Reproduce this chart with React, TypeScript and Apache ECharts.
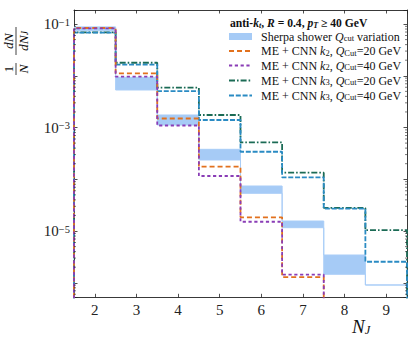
import React, { useEffect, useRef } from "react";
import * as echarts from "echarts";

// Bin centres (number of jets)
const NJ = [2, 3, 4, 5, 6, 7, 8, 9];
// Sherpa shower Q_cut variation band (upper / lower edge)
const sherpaUpper = [0.088, 0.00933, 0.001746, 3.79e-4, 7.41e-5, 1.56e-5, 3.44e-6, 9.06e-7];
const sherpaLower = [0.074, 0.00531, 0.001117, 2.36e-4, 5.36e-5, 1.16e-5, 1.46e-6, 9.06e-7];
// ME + CNN predictions
const k2Q20 = [0.0837, 0.01114, 0.001493, 1.75e-4, 1.84e-5, 1.29e-6, 1e-8, 1e-8];
const k2Q40 = [0.0826, 0.00959, 0.001093, 1.156e-4, 1.51e-5, 1.44e-6, 1e-8, 1e-8];
const k3Q20 = [0.0692, 0.01786, 0.00588, 1.746e-3, 5.18e-4, 1.34e-4, 2.8e-5, 1.045e-5];
const k3Q40 = [0.068, 0.01648, 0.00507, 1.397e-3, 3.4e-4, 1.09e-4, 2.7e-5, 2.55e-6];

const X_MIN = 1.5;
const X_MAX = 9.5;
const Y_MIN = 5.24e-7;
const Y_MAX = 0.1866;
const ZERO = 1e-10;

const FONT = "'Liberation Serif', 'DejaVu Serif', serif";
const AX = "#222";
const C_BAND = "#a6cbf6";
const C_BAND_EDGE = "#a9cdf7";
const C_ORANGE = "#e2711d";
const C_PURPLE = "#8a3db6";
const C_GREEN = "#1b6b55";
const C_BLUE = "#2a8bc3";

const DASH_ORANGE = [5, 3];
const DASH_PURPLE = [3.2, 2.6];
const DASH_GREEN = [6, 2, 1.6, 2];
const DASH_BLUE = [5, 1.8];

function stepPoints(vals: number[], drop: boolean) {
  const pts: number[][] = [];
  if (drop) pts.push([NJ[0] - 0.5, ZERO]);
  vals.forEach((v, i) => pts.push([NJ[i] - 0.5, v]));
  pts.push([NJ[NJ.length - 1] + 0.5, vals[vals.length - 1]]);
  if (drop) pts.push([NJ[NJ.length - 1] + 0.5, ZERO]);
  return pts;
}

const minorTicks: number[] = [];
for (let e = -7; e <= 0; e++) {
  for (let m = 2; m <= 9; m++) {
    const v = m * Math.pow(10, e);
    if (v > Y_MIN && v < Y_MAX) minorTicks.push(v);
  }
}

function lineSeries(name: string, vals: number[], color: string, dash: number[], width: number, z: number) {
  return {
    type: "line",
    name,
    data: stepPoints(vals, true),
    step: "end",
    showSymbol: false,
    symbol: "none",
    clip: true,
    z,
    lineStyle: { color, width, type: dash, cap: "butt" },
  };
}

const subRich = (size: number, color: string, italic = false, bold = false) => ({
  fontSize: size,
  fontFamily: FONT,
  fontStyle: italic ? "italic" : "normal",
  fontWeight: bold ? "bold" : "normal",
  fill: color,
  color,
  lineHeight: 6,
  verticalAlign: "bottom",
});

export default function App() {
  const ref = useRef<HTMLDivElement>(null);
  useEffect(() => {
    if (!ref.current) return;
    const chart = echarts.init(ref.current, undefined, { renderer: "svg" });

    const mainSize = 12;
    const titleSize = 11.6;
    const txt = "#111";
    const LH = 12;
    const legendRich: any = {
      m: { fontSize: mainSize, fontFamily: FONT, fill: txt, color: txt, lineHeight: LH, verticalAlign: "middle" },
      i: { fontSize: mainSize, fontFamily: FONT, fontStyle: "italic", fill: txt, color: txt, lineHeight: LH, verticalAlign: "middle" },
      s: subRich(8.5, txt),
      si: subRich(8.5, txt, true),
      b: { fontSize: titleSize, fontFamily: FONT, fontWeight: "bold", fill: txt, color: txt, lineHeight: LH, verticalAlign: "middle" },
      bi: { fontSize: titleSize, fontFamily: FONT, fontWeight: "bold", fontStyle: "italic", fill: txt, color: txt, lineHeight: LH, verticalAlign: "middle" },
      bs: subRich(8, txt, true, true),
    };

    const hx1 = 229;
    const hx2 = 252;
    const tx = 261;
    const rowsY = [36.5, 51, 65.5, 80.5, 95.5];
    const entries = [
      { text: "{m|Sherpa shower }{i|Q}{s|cut}{m| variation}" },
      { text: "{m|ME + CNN }{i|k}{s|2}{m|, }{i|Q}{s|Cut}{m|=20 GeV}", color: C_ORANGE, dash: DASH_ORANGE },
      { text: "{m|ME + CNN }{i|k}{s|2}{m|, }{i|Q}{s|Cut}{m|=40 GeV}", color: C_PURPLE, dash: DASH_PURPLE },
      { text: "{m|ME + CNN }{i|k}{s|3}{m|, }{i|Q}{s|Cut}{m|=20 GeV}", color: C_GREEN, dash: DASH_GREEN },
      { text: "{m|ME + CNN }{i|k}{s|3}{m|, }{i|Q}{s|Cut}{m|=40 GeV}", color: C_BLUE, dash: DASH_BLUE },
    ];

    const graphics: any[] = [];
    graphics.push({
      type: "text",
      x: 230,
      y: 23,
      silent: true,
      style: {
        text: "{b|anti-}{bi|k}{bs|t}{b|, }{bi|R}{b| = 0.4, }{bi|p}{bs|T}{b| ≥ 40 GeV}",
        rich: legendRich,
        verticalAlign: "middle",
        align: "left",
      },
    });
    entries.forEach((e, k) => {
      const y = rowsY[k];
      if (k === 0) {
        graphics.push({ type: "rect", silent: true, shape: { x: hx1, y: y - 3.5, width: hx2 - hx1, height: 7 }, style: { fill: C_BAND } });
      } else {
        graphics.push({
          type: "line",
          silent: true,
          shape: { x1: hx1, y1: y, x2: hx2, y2: y },
          style: { stroke: e.color, lineWidth: 1.8, lineDash: e.dash },
        });
      }
      graphics.push({
        type: "text",
        x: tx,
        y,
        silent: true,
        style: { text: e.text, rich: legendRich, verticalAlign: "middle", align: "left" },
      });
    });

    // y axis title: 1/N dN/dN_J rotated
    const ySize = 13.5;
    const yRich: any = {
      i: { fontSize: ySize, fontFamily: FONT, fontStyle: "italic", fill: txt, color: txt, lineHeight: 13 },
      m: { fontSize: ySize, fontFamily: FONT, fill: txt, color: txt, lineHeight: 13 },
      s: { fontSize: 9.5, fontFamily: FONT, fontStyle: "italic", fill: txt, color: txt, verticalAlign: "bottom", lineHeight: 8 },
    };
    graphics.push({
      type: "group",
      x: 16,
      y: 52,
      rotation: Math.PI / 2,
      silent: true,
      children: [
        { type: "text", x: -17, y: -1.2, style: { text: "{m|1}", rich: yRich, align: "center", verticalAlign: "bottom" } },
        { type: "line", shape: { x1: -23, y1: 0, x2: -11, y2: 0 }, style: { stroke: txt, lineWidth: 0.8 } },
        { type: "text", x: -17, y: 1.2, style: { text: "{i|N}", rich: yRich, align: "center", verticalAlign: "top" } },
        { type: "text", x: 11, y: -1.2, style: { text: "{i|dN}", rich: yRich, align: "center", verticalAlign: "bottom" } },
        { type: "line", shape: { x1: -3, y1: 0, x2: 25, y2: 0 }, style: { stroke: txt, lineWidth: 0.8 } },
        { type: "text", x: 11, y: 1.2, style: { text: "{i|dN}{s|J}", rich: yRich, align: "center", verticalAlign: "top" } },
      ],
    });

    // x axis title N_J
    graphics.push({
      type: "text",
      x: 352,
      y: 326,
      silent: true,
      style: {
        text: "{n|N}{s|J}",
        rich: {
          n: { fontSize: 19, fontFamily: FONT, fontStyle: "italic", fill: txt, color: txt, lineHeight: 20, verticalAlign: "middle" },
          s: { fontSize: 12.5, fontFamily: FONT, fontStyle: "italic", fill: txt, color: txt, lineHeight: 10, verticalAlign: "bottom" },
        },
        verticalAlign: "middle",
        align: "left",
      },
    });

    const axisCommon = {
      axisLine: { show: true, onZero: false, lineStyle: { color: AX, width: 0.9 } },
      splitLine: { show: false },
      minorSplitLine: { show: false },
    };

    const option: any = {
      animation: false,
      backgroundColor: "#fff",
      grid: { left: 74, right: 8, top: 10, bottom: 44.7, containLabel: false, outerBoundsMode: "none" },
      xAxis: [
        {
          type: "value",
          min: X_MIN,
          max: X_MAX,
          splitNumber: 8,
          position: "bottom",
          ...axisCommon,
          axisTick: { show: true, inside: true, length: 3.5, lineStyle: { color: AX, width: 0.8 } },
          axisLabel: {
            show: true,
            margin: 5,
            fontFamily: FONT,
            fontSize: 15,
            color: "#222",
            formatter: (v: number) => (Number.isInteger(v) ? String(v) : ""),
          },
        },
        {
          type: "value",
          min: X_MIN,
          max: X_MAX,
          splitNumber: 8,
          position: "top",
          ...axisCommon,
          axisTick: { show: true, inside: true, length: 3.5, lineStyle: { color: AX, width: 0.8 } },
          axisLabel: { show: false },
        },
      ],
      yAxis: [
        {
          type: "log",
          logBase: 10,
          min: Y_MIN,
          max: Y_MAX,
          splitNumber: 5,
          position: "left",
          ...axisCommon,
          axisTick: { show: true, inside: true, length: 3.5, lineStyle: { color: AX, width: 0.8 } },
          axisLabel: {
            show: true,
            margin: 4,
            formatter: (v: number) => {
              const e = Math.log10(v);
              const r = Math.round(e);
              if (Math.abs(e - r) > 1e-6 || r % 2 === 0) return "";
              return `{b|10}{s|−${Math.abs(r)}}`;
            },
            rich: {
              b: { fontFamily: FONT, fontSize: 15, color: "#222", lineHeight: 15, verticalAlign: "bottom" },
              s: { fontFamily: FONT, fontSize: 10.5, color: "#222", lineHeight: 10, verticalAlign: "top" },
            },
          },
        },
        {
          type: "log",
          logBase: 10,
          min: Y_MIN,
          max: Y_MAX,
          splitNumber: 5,
          position: "right",
          ...axisCommon,
          axisTick: { show: true, inside: true, length: 3.5, lineStyle: { color: AX, width: 0.8 } },
          axisLabel: { show: false },
        },
      ],
      series: [
        {
          type: "custom",
          name: "band",
          xAxisIndex: 0,
          yAxisIndex: 0,
          clip: true,
          z: 1,
          data: NJ.map((n, i) => [n, sherpaLower[i], sherpaUpper[i]]),
          encode: { x: 0, y: [1, 2] },
          renderItem: (_p: any, api: any) => {
            const n = api.value(0);
            const lo = api.value(1);
            const hi = api.value(2);
            const a = api.coord([n - 0.5, hi]);
            const b = api.coord([n + 0.5, lo]);
            return {
              type: "rect",
              shape: { x: a[0], y: a[1], width: b[0] - a[0], height: b[1] - a[1] },
              style: { fill: C_BAND },
            };
          },
        },
        {
          type: "line",
          name: "bandUpper",
          data: stepPoints(sherpaUpper, false),
          step: "end",
          showSymbol: false,
          symbol: "none",
          clip: true,
          z: 2,
          lineStyle: { color: C_BAND_EDGE, width: 1 },
        },
        {
          type: "line",
          name: "bandLower",
          data: stepPoints(sherpaLower, false),
          step: "end",
          showSymbol: false,
          symbol: "none",
          clip: true,
          z: 2,
          lineStyle: { color: C_BAND_EDGE, width: 1 },
        },
        lineSeries("k3Q20", k3Q20, C_GREEN, DASH_GREEN, 1.8, 3),
        lineSeries("k3Q40", k3Q40, C_BLUE, DASH_BLUE, 1.8, 4),
        lineSeries("k2Q20", k2Q20, C_ORANGE, DASH_ORANGE, 1.8, 5),
        lineSeries("k2Q40", k2Q40, C_PURPLE, DASH_PURPLE, 1.8, 6),
        {
          type: "custom",
          name: "minorTicks",
          xAxisIndex: 0,
          yAxisIndex: 0,
          clip: false,
          z: 10,
          silent: true,
          data: minorTicks.map((v) => [X_MIN, v]),
          encode: { x: 0, y: 1 },
          renderItem: (_p: any, api: any) => {
            const v = api.value(1);
            const l = api.coord([X_MIN, v]);
            const r = api.coord([X_MAX, v]);
            return {
              type: "group",
              children: [
                { type: "line", shape: { x1: l[0], y1: l[1], x2: l[0] + 2, y2: l[1] }, style: { stroke: AX, lineWidth: 0.6 } },
                { type: "line", shape: { x1: r[0] - 2, y1: r[1], x2: r[0], y2: r[1] }, style: { stroke: AX, lineWidth: 0.6 } },
              ],
            };
          },
        },
      ],
      graphic: graphics,
    };

    chart.setOption(option);
    return () => chart.dispose();
  }, []);

  return (
    <div
      ref={ref}
      style={{ position: "fixed", left: 0, top: 0, width: 415, height: 342, background: "#fff" }}
    />
  );
}
